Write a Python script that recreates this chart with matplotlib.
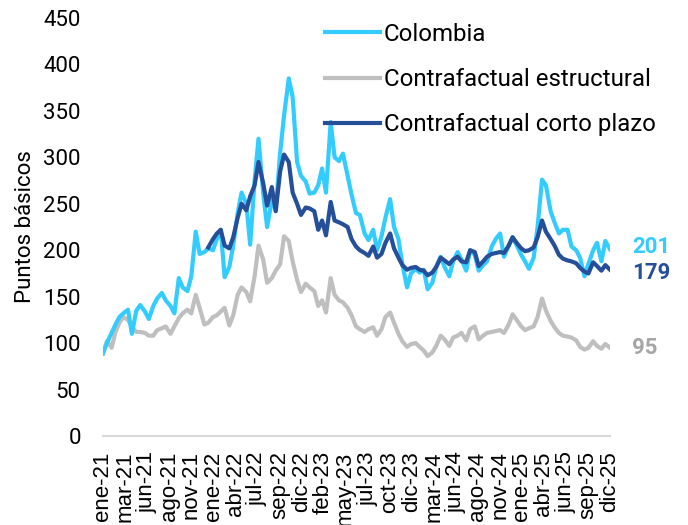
"""
Colombia CDS vs. counterfactuals (estructural / corto plazo), 2021-2025
"""

import matplotlib.pyplot as plt
import matplotlib.dates as mdates
import numpy as np
import pandas as pd

plt.rcParams['font.family'] = ['Roboto', 'DejaVu Sans']

COL_LIGHT = '#33CCFF'
COL_GRAY = '#BFBFBF'
COL_DARK = '#264F9A'

# semi-monthly points, 2021-01-01 .. 2026-01-01 (121 values)
dates = pd.date_range('2021-01-01', '2026-01-01', freq='SMS')

colombia = [
    89, 100, 111, 120, 128, 132, 136, 110, 135, 141,
    134, 126, 140, 148, 154, 146, 140, 132, 170, 160,
    156, 172, 220, 196, 198, 202, 200, 212, 222, 171,
    182, 205, 240, 262, 250, 206, 275, 320, 261, 225,
    254, 243, 305, 345, 385, 365, 295, 280, 274, 261,
    262, 270, 288, 262, 338, 300, 296, 304, 280, 260,
    240, 238, 218, 211, 222, 200, 215, 235, 255, 225,
    212, 185, 160, 175, 180, 176, 179, 158, 165, 182,
    193, 182, 172, 188, 198, 190, 178, 200, 195, 178,
    184, 188, 204, 212, 218, 193, 205, 214, 204, 195,
    188, 180, 192, 225, 276, 270, 242, 230, 218, 222,
    222, 204, 200, 192, 172, 185, 200, 208, 188, 210,
    201,
]

estructural = [
    89, 102, 95, 112, 122, 128, 125, 118, 112, 112,
    111, 108, 108, 114, 116, 118, 110, 118, 127, 132,
    136, 132, 152, 138, 120, 122, 128, 130, 134, 138,
    119, 130, 152, 160, 155, 145, 172, 205, 190, 165,
    170, 178, 185, 215, 210, 188, 168, 155, 164, 160,
    156, 140, 146, 133, 170, 152, 146, 144, 138, 130,
    118, 115, 112, 115, 117, 108, 115, 128, 133, 122,
    110, 102, 96, 99, 100, 96, 92, 86, 90, 97,
    108, 104, 97, 106, 108, 111, 103, 115, 118, 104,
    108, 111, 112, 113, 114, 111, 120, 131, 124, 118,
    114, 116, 118, 128, 148, 135, 124, 117, 111, 108,
    107, 106, 103, 96, 93, 95, 102, 97, 94, 99,
    95,
]

# short-term counterfactual starts in Jan-2022
corto_plazo = [np.nan] * 25 + [
    203, 212, 218, 222, 205, 202, 214, 235, 250, 243,
    258, 270, 295, 272, 248, 268, 242, 285, 303, 295,
    262, 250, 238, 246, 245, 242, 222, 232, 216, 252,
    232, 230, 228, 225, 212, 204, 200, 197, 194, 204,
    192, 196, 208, 218, 202, 192, 184, 179, 181, 182,
    179, 178, 173, 176, 182, 192, 189, 185, 190, 193,
    188, 187, 200, 198, 183, 188, 193, 196, 197, 198,
    197, 205, 214, 207, 202, 199, 200, 203, 214, 232,
    220, 212, 205, 195, 191, 189, 188, 186, 181, 177,
    175, 187, 183, 178, 184, 179,
]

tick_labels = ['ene-21', 'mar-21', 'jun-21', 'ago-21', 'nov-21', 'ene-22',
               'abr-22', 'jul-22', 'sep-22', 'dic-22', 'feb-23', 'may-23',
               'jul-23', 'oct-23', 'dic-23', 'mar-24', 'jun-24', 'ago-24',
               'nov-24', 'ene-25', 'abr-25', 'jun-25', 'sep-25', 'dic-25']

fig = plt.figure(figsize=(6.88, 5.25), dpi=100)
ax = fig.add_axes([0.1497, 0.1695, 0.737, 0.7962])

ax.plot(dates, estructural, color=COL_GRAY, lw=3.0, label='Contrafactual estructural', zorder=2)
ax.plot(dates, colombia, color=COL_LIGHT, lw=3.0, label='Colombia', zorder=3)
ax.plot(dates, corto_plazo, color=COL_DARK, lw=3.0, label='Contrafactual corto plazo', zorder=4)

# end-of-series labels (201 / 179 sit very close, nudge apart a little)
end_labels = [(colombia, COL_LIGHT, 2), (corto_plazo, COL_DARK, -2), (estructural, '#A6A6A6', 0)]
for vals, col, dy in end_labels:
    ax.annotate(f'{vals[-1]}', xy=(dates[-1], vals[-1]), xytext=(16, dy),
                textcoords='offset points', ha='left', va='center',
                fontsize=16, fontweight='bold', color=col, annotation_clip=False)

x0, x1 = mdates.date2num(dates[0]), mdates.date2num(dates[-1])
ax.set_xlim(x0, x1)
ax.set_xticks(np.linspace(x0, x1, len(tick_labels)))
ax.set_xticklabels(tick_labels, rotation=90, fontsize=16,
                   family=['Liberation Sans', 'DejaVu Sans'])
ax.set_ylim(0, 450)
ax.set_yticks(np.arange(0, 451, 50))
ax.tick_params(axis='y', labelsize=16, length=0, pad=16)
ax.tick_params(axis='x', length=0, pad=11)
ax.set_ylabel('Puntos básicos', fontsize=16, labelpad=5)

for s in ['top', 'right', 'left']:
    ax.spines[s].set_visible(False)
ax.spines['bottom'].set_color('#D9D9D9')
ax.spines['bottom'].set_linewidth(1.5)

handles, labels = ax.get_legend_handles_labels()
order = [1, 0, 2]
ax.legend([handles[i] for i in order], [labels[i] for i in order],
          loc='upper left', bbox_to_anchor=(0.472, 0.957), bbox_transform=fig.transFigure,
          frameon=False, fontsize=17.3, handlelength=2.29, handletextpad=0.17,
          labelspacing=0.93, borderpad=0, borderaxespad=0)

fig.savefig('out.png', dpi=100, facecolor='white')
